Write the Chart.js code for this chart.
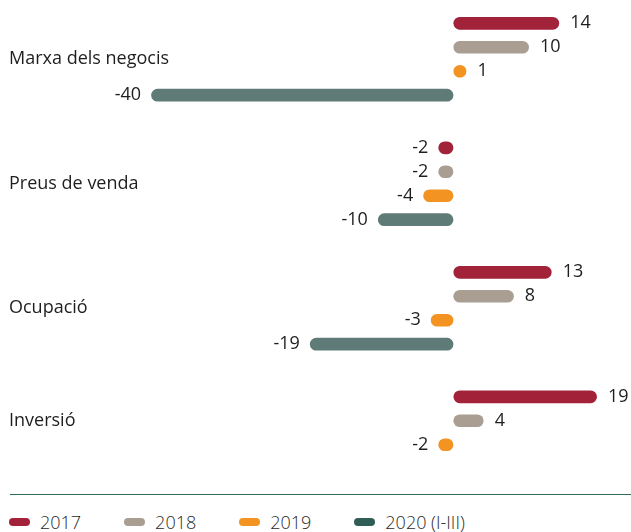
<!DOCTYPE html>
<html>
<head>
<meta charset="utf-8">
<script src="https://cdn.jsdelivr.net/npm/chart.js@4.4.1/dist/chart.umd.min.js"></script>
<style>
  body { margin: 0; background: #fff; font-family: "Open Sans", sans-serif; }
  #wrap { position: relative; width: 631px; height: 532px; overflow: hidden; }
  #chartBox { position: absolute; left: 0; top: -3px; width: 631px; height: 498px; }
  #rule { position: absolute; left: 10px; right: 0; top: 494px; border-top: 1px solid #2e6b5c; }
  #legend { position: absolute; left: 9px; top: 509px; display: flex; font-size: 18px; font-weight: 300; color: #2a2a2a; line-height: 26px; }
  #legend .item { display: flex; align-items: center; margin-right: 43px; }
  #legend .sw { width: 21px; height: 8px; border-radius: 4px; margin-right: 10px; }
</style>
</head>
<body>
<div id="wrap">
  <div id="chartBox"><canvas id="myChart-bar"></canvas></div>
  <div id="rule"></div>
  <div id="legend"></div>
</div>
<script>
const categories = ["Marxa dels negocis", "Preus de venda", "Ocupació", "Inversió"];
const years = ["2017", "2018", "2019", "2020 (I-III)"];
const values2017 = [14, -2, 13, 19];
const values2018 = [10, -2, 8, 4];
const values2019 = [1, -4, -3, -2];
const values2020 = [-40, -10, -19, null];

const barColors = ["#a2223a", "#aa9e93", "#f39322", "#5f7b77"];
const legendColors = ["#a2223a", "#aa9e93", "#f39322", "#305e57"];
const series = [values2017, values2018, values2019, values2020];

const textColor = "#1e1e1e";

// etiquetes de categoria (centrades sobre les barres que hi ha) i valors al final de cada barra
const labelsPlugin = {
  id: "bar-labels",
  afterDatasetsDraw(chart) {
    const ctx = chart.ctx;
    ctx.save();
    ctx.fillStyle = textColor;
    ctx.font = "18px 'Open Sans'";
    ctx.textBaseline = "middle";

    const sumY = categories.map(() => 0);
    const count = categories.map(() => 0);

    chart.data.datasets.forEach((ds, di) => {
      const meta = chart.getDatasetMeta(di);
      meta.data.forEach((bar, i) => {
        const v = ds.data[i];
        if (v === null || v === undefined) return;
        sumY[i] += bar.y;
        count[i] += 1;
        if (v >= 0) {
          ctx.textAlign = "left";
          ctx.fillText(String(v), bar.x + 11, bar.y);
        } else {
          ctx.textAlign = "right";
          ctx.fillText(String(v), bar.x - 10, bar.y);
        }
      });
    });

    ctx.textAlign = "left";
    categories.forEach((c, i) => {
      ctx.fillText(c, 9, sumY[i] / count[i]);
    });
    ctx.restore();
  },
};

const ctx = document.getElementById("myChart-bar").getContext("2d");
const myChart = new Chart(ctx, {
  type: "bar",
  data: {
    labels: categories,
    datasets: series.map((d, i) => ({
      label: years[i],
      data: d,
      backgroundColor: barColors[i],
      borderWidth: 0,
      borderRadius: 7,
      borderSkipped: false,
      minBarLength: 13,
      categoryPercentage: 0.77,
      barPercentage: 0.53,
    })),
  },
  options: {
    indexAxis: "y",
    responsive: true,
    maintainAspectRatio: false,
    animation: false,
    layout: { padding: 0 },
    scales: {
      x: { display: false, min: -60, max: 23.5 },
      y: { display: false },
    },
    plugins: {
      legend: { display: false },
      tooltip: { enabled: false },
    },
  },
  plugins: [labelsPlugin],
});

// llegenda sota la línia
const legendEl = document.getElementById("legend");
years.forEach((y, i) => {
  const item = document.createElement("div");
  item.className = "item";
  const sw = document.createElement("span");
  sw.className = "sw";
  sw.style.background = legendColors[i];
  const txt = document.createElement("span");
  txt.textContent = y;
  item.appendChild(sw);
  item.appendChild(txt);
  legendEl.appendChild(item);
});
</script>
</body>
</html>
